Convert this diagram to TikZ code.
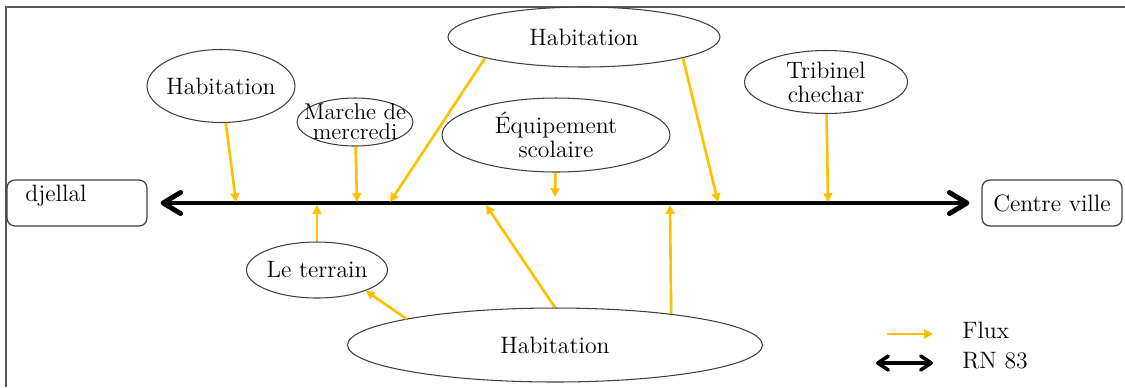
\documentclass[tikz,border=0pt]{standalone}
\usepackage{fontspec}
\usepackage{tikz}
\usetikzlibrary{arrows.meta,shapes.geometric}
\definecolor{fluxcol}{HTML}{FFC000}
\tikzset{
  bubble/.style={ellipse,draw=black!75,line width=0.6pt,inner sep=-6pt,align=center,
    font=\fontsize{13.5}{13.6}\selectfont},
  endbox/.style={rectangle,rounded corners=4.5pt,draw=black!75,line width=0.7pt,
    minimum width=2.8cm,minimum height=0.92cm},
  lbl/.style={font=\fontsize{13.5}{13.6}\selectfont,inner sep=0pt},
  flux/.style={fluxcol,line width=1.5pt,-{Triangle[length=5pt,width=5pt]}},
  road/.style={line width=2.8pt,{Straight Barb[round,length=10pt,width=12pt]}-{Straight Barb[round,length=10pt,width=12pt]}},
  roadkey/.style={line width=2pt,{Straight Barb[round,length=6pt,width=8pt]}-{Straight Barb[round,length=6pt,width=8pt]}},
  frame/.style={black!65,line width=1.1pt},
}

\begin{document}
\begin{tikzpicture}[x=0.02cm,y=-0.02cm]
    \useasboundingbox (0,0) rectangle (1125,387);
    \draw[frame] (6,387) -- (6,7) -- (1125,7);
    % ------------- places along the road -------------
    \node[bubble,minimum width=2.96cm,minimum height=1.46cm] (hab1) at (221,86) {Habitation};
    \node[bubble,minimum width=2.32cm,minimum height=0.96cm,inner sep=-9pt,
      font=\fontsize{13}{11.5}\selectfont] (marche) at (355,122) {Marche de\\mercredi};
    \node[bubble,minimum width=5.44cm,minimum height=1.2cm] (hab2) at (584,37) {Habitation};
    \node[bubble,minimum width=4.56cm,minimum height=1.48cm] (equip) at (556,135) {Équipement\\scolaire};
    \node[bubble,minimum width=3.26cm,minimum height=1.26cm] (tribinel) at (826,82) {Tribinel\\chechar};
    \node[bubble,minimum width=2.82cm,minimum height=1.12cm] (terrain) at (317,270) {Le terrain};
    \node[bubble,minimum width=8.3cm,minimum height=1.48cm] (hab3) at (555,345) {Habitation};
    % ------------- ends of the RN 83 -------------
    \node[endbox] (djellal) at (77,203) {};
    \node[lbl,anchor=base west] (djellaltxt) at (25,201) {djellal};
    \node[endbox,lbl,minimum width=2.8cm,minimum height=0.92cm] (centre) at (1052,203) {Centre ville};
    \draw[road,shorten <=0.26cm,shorten >=0.24cm] (djellal.east) -- (centre.west);
    % points where the flows reach the road
    \coordinate (r1) at (236,202);
    \coordinate (r2) at (357,202);
    \coordinate (r3) at (390,202);
    \coordinate (r4) at (555,197);
    \coordinate (r5) at (718,202);
    \coordinate (r6) at (828,202);
    \coordinate (u1) at (317,205);
    \coordinate (u2) at (486,205);
    \coordinate (u3) at (670,205);
    % flows
    \draw[flux] (hab1) -- (r1);
    \draw[flux] (marche) -- (r2);
    \draw[flux] (hab2.192) -- (r3);
    \draw[flux] (equip) -- (r4);
    \draw[flux] (hab2.348) -- (r5);
    \draw[flux] (tribinel) -- (r6);
    \draw[flux] (terrain) -- (u1);
    \draw[flux] (hab3.170) -- (terrain.337);
    \draw[flux] (hab3.north) -- (u2);
    \draw[flux] (hab3.15) -- (u3);
    % ------------- legend -------------
    \coordinate (fluxs) at (887,334);
    \coordinate (fluxe) at (933,334);
    \draw[flux,line width=1.2pt] (fluxs) -- (fluxe);
    \node[lbl,anchor=base west] (fluxtxt) at (962,338) {Flux};
    \coordinate (rns) at (876,363);
    \coordinate (rne) at (933,363);
    \draw[roadkey] (rns) -- (rne);
    \node[lbl,anchor=base west] (rntxt) at (962,368) {RN 83};
  \end{tikzpicture}
\end{document}
